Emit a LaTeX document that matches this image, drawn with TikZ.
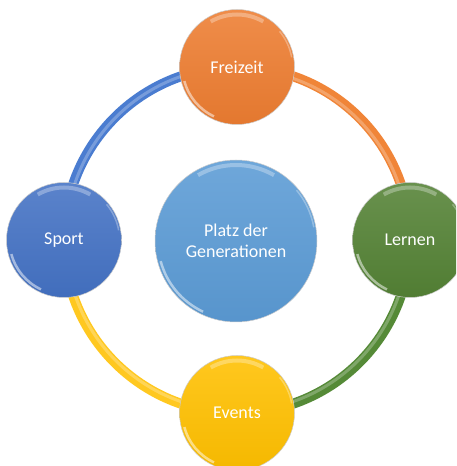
\documentclass[tikz,border=0pt]{standalone}
\usepackage{fontspec}
\setmainfont{Carlito}
\usetikzlibrary{backgrounds}
\definecolor{orangeC}{HTML}{ED7D31}
\definecolor{greenC}{HTML}{548235}
\definecolor{yellowC}{HTML}{FFC000}
\definecolor{blueC}{HTML}{4472C4}
\definecolor{centerC}{HTML}{5B9BD5}
\definecolor{blueR}{HTML}{4A7CD0}
\definecolor{orangeR}{HTML}{F08538}
\definecolor{greenR}{HTML}{558A37}
\definecolor{yellowR}{HTML}{FFC820}
\begin{document}
\begin{tikzpicture}[x=1pt,y=1pt,
  ball/.style 2 args={circle, draw=gray!40, line width=0.5pt,
    top color=#1!88!white, bottom color=#1!96!black,
    minimum size=#2, inner sep=0pt, text=white,
    font=\fontsize{18}{21}\selectfont, align=center,
    path picture={
      \draw[white, opacity=0.3, line width=4pt]
        (path picture bounding box.center) ++(60:#2/2-5pt)
        arc[start angle=60, end angle=120, radius=#2/2-5pt];
      \draw[white, opacity=0.5, line width=2.5pt]
        (path picture bounding box.center) ++(195:#2/2-3pt)
        arc[start angle=195, end angle=245, radius=#2/2-3pt];
      \draw[white, opacity=0.3, line width=1.5pt]
        (path picture bounding box.center) ++(10:#2/2-2pt)
        arc[start angle=10, end angle=40, radius=#2/2-2pt];
    }},
  ringseg/.style={line width=10pt},
  ringhl/.style={line width=3pt, white, opacity=0.25},
]
\clip (0,0) rectangle (456,466);
\useasboundingbox (0,0) rectangle (456,466);
\node[ball={centerC}{162pt}] (center) at (236,225) {Platz der\\Generationen};
\node[ball={orangeC}{115pt}] (freizeit) at (237,399) {Freizeit};
\node[ball={greenC}{115pt}] (lernen) at (410,226) {Lernen};
\node[ball={yellowC}{115pt}] (events) at (237,53) {Events};
\node[ball={blueC}{115pt}] (sport) at (64,226) {Sport};
\begin{scope}[on background layer]
  \draw[ringseg, blueR] (freizeit.center) arc[start angle=90, end angle=180, radius=173];
  \draw[ringseg, orangeR] (lernen.center) arc[start angle=0, end angle=90, radius=173];
  \draw[ringseg, greenR] (events.center) arc[start angle=270, end angle=360, radius=173];
  \draw[ringseg, yellowR] (sport.center) arc[start angle=180, end angle=270, radius=173];
  \draw[ringhl] (freizeit.center) arc[start angle=90, end angle=180, radius=171];
  \draw[ringhl] (lernen.center) ++(-2,0) arc[start angle=0, end angle=90, radius=171];
  \draw[ringhl] (events.center) ++(0,2) arc[start angle=270, end angle=360, radius=171];
  \draw[ringhl] (sport.center) ++(2,0) arc[start angle=180, end angle=270, radius=171];
\end{scope}
\end{tikzpicture}
\end{document}
